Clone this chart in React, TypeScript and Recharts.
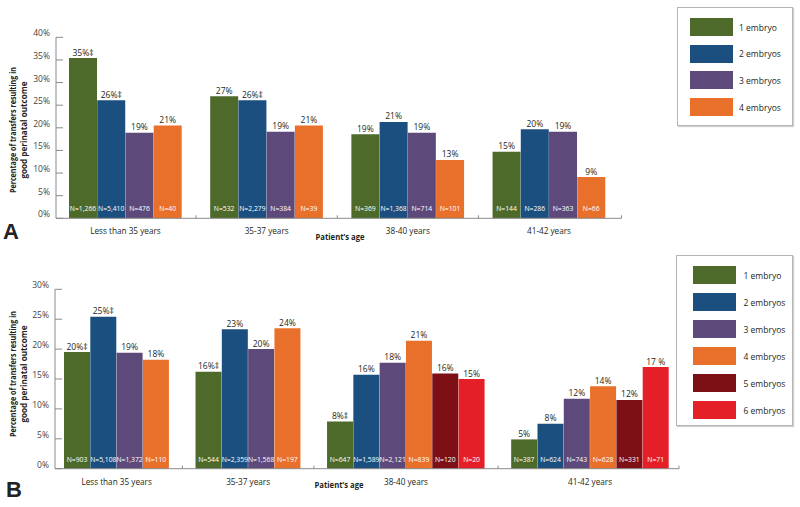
import { BarChart, Bar, XAxis, YAxis, Cell, LabelList, Legend } from 'recharts';

const FONT = '"Open Sans", "Noto Sans", sans-serif';
const AXIS = '#8a8a8a';
const TEXT = '#231f20';

const ageGroups = ['Less than 35 years', '35-37 years', '38-40 years', '41-42 years'];
const embryoNames = ['1 embryo', '2 embryos', '3 embryos', '4 embryos', '5 embryos', '6 embryos'];
const embryoColors = ['#4d6a2b', '#1b4f7f', '#5e4a7a', '#e8702a', '#7c1015', '#e51f27'];

// Panel A: one array per embryo count, one value per age group
const aValues = [
  [35.4, 27.0, 18.6, 14.7],
  [26.1, 26.1, 21.3, 19.7],
  [18.9, 19.1, 18.9, 19.1],
  [20.5, 20.5, 12.9, 9.1],
];
const aLabels = [
  ['35%‡', '27%', '19%', '15%'],
  ['26%‡', '26%‡', '21%', '20%'],
  ['19%', '19%', '19%', '19%'],
  ['21%', '21%', '13%', '9%'],
];
const aCounts = [
  ['N=1,266', 'N=532', 'N=369', 'N=144'],
  ['N=5,410', 'N=2,279', 'N=1,368', 'N=286'],
  ['N=476', 'N=384', 'N=714', 'N=363'],
  ['N=40', 'N=39', 'N=101', 'N=66'],
];
const aTicks = [0, 5, 10, 15, 20, 25, 30, 35, 40];

// Panel B: 5 and 6 embryos only in the two older groups
const bValues = [
  [19.5, 16.2, 7.9, 4.9],
  [25.4, 23.3, 15.7, 7.5],
  [19.4, 20.0, 17.7, 11.7],
  [18.2, 23.5, 21.4, 13.8],
  [null, null, 15.9, 11.5],
  [null, null, 15.0, 17.0],
];
const bLabels = [
  ['20%‡', '16%‡', '8%‡', '5%'],
  ['25%‡', '23%', '16%', '8%'],
  ['19%', '20%', '18%', '12%'],
  ['18%', '24%', '21%', '14%'],
  ['', '', '16%', '12%'],
  ['', '', '15%', '17 %'],
];
const bCounts = [
  ['N=903', 'N=544', 'N=647', 'N=387'],
  ['N=5,108', 'N=2,359', 'N=1,589', 'N=624'],
  ['N=1,372', 'N=1,568', 'N=2,121', 'N=743'],
  ['N=110', 'N=197', 'N=839', 'N=628'],
  ['', '', 'N=120', 'N=331'],
  ['', '', 'N=20', 'N=71'],
];
const bTicks = [0, 5, 10, 15, 20, 25, 30];

type Row = {
  key: string;
  value: number | null;
  label?: string;
  n?: string;
  color?: string;
  group: number;
  pos?: number;
  size?: number;
  spacer?: boolean;
};

// one row per bar, with an empty slot between age groups
function buildRows(values: (number | null)[][], labels: string[][], counts: string[][]): Row[] {
  const rows: Row[] = [];
  ageGroups.forEach((_, gi) => {
    if (gi > 0) rows.push({ key: `gap${gi}`, value: null, group: gi, spacer: true });
    const members = values.map((_, si) => si).filter(si => values[si][gi] != null);
    members.forEach((si, k) => {
      rows.push({
        key: `${gi}-${si}`,
        value: values[si][gi],
        label: labels[si][gi],
        n: counts[si][gi],
        color: embryoColors[si],
        group: gi,
        pos: k,
        size: members.length,
      });
    });
  });
  return rows;
}

interface PanelProps {
  letter: string;
  top: number;
  height: number;
  rows: Row[];
  series: number;
  yMax: number;
  yTicks: number[];
  plotLeft: number;
  plotRight: number;
  plotTop: number;
  plotBottom: number;
  padL: number;
  padR: number;
  titleX: number;
  titleY: number;
  yTitleY: number;
  legend: { left: number; top: number; width: number; height: number; padX: number; padY: number; step: number; gap: number };
  letterPos: { left: number; top: number };
}

function Panel(p: PanelProps) {
  const Y_W = 40;
  const X_H = 30;
  const width = 800;
  const slot = (p.plotRight - p.plotLeft - p.padL - p.padR) / p.rows.length;
  const last = p.rows.length - 1;

  const renderXTick = (props: any) => {
    const { x, y, index } = props;
    const row = p.rows[index];
    if (!row) return <g />;
    return (
      <g>
        {row.spacer && <line x1={x} x2={x} y1={y} y2={y - 3} stroke={AXIS} />}
        {row.pos === 0 && (
          <text
            x={x + (((row.size ?? 1) - 1) / 2) * slot}
            y={y + 16}
            textAnchor="middle"
            fontSize={8.2}
            fontFamily={FONT}
            fill={TEXT}
          >
            {ageGroups[row.group]}
          </text>
        )}
        {index === last && (
          <line x1={x + slot / 2 + p.padR} x2={x + slot / 2 + p.padR} y1={y} y2={y - 3} stroke={AXIS} />
        )}
      </g>
    );
  };

  const renderYTick = (props: any) => {
    const { x, y, payload } = props;
    return (
      <g>
        <line x1={x} x2={x + 7} y1={y} y2={y} stroke={AXIS} />
        <text x={x - 6} y={y - 1} textAnchor="end" fontSize={8.5} fontFamily={FONT} fill="#444">
          {`${payload.value}%`}
        </text>
      </g>
    );
  };

  const renderCount = (props: any) => {
    const { x, y, width: w, height: h, value } = props;
    if (!value) return null;
    return (
      <text x={x + w / 2} y={y + h - 7} textAnchor="middle" fontSize={6.8} fontFamily={FONT} fill="#ffffff">
        {value}
      </text>
    );
  };

  const renderValue = (props: any) => {
    const { x, y, width: w, value } = props;
    if (!value) return null;
    return (
      <text x={x + w / 2} y={y - 2.5} textAnchor="middle" fontSize={8.5} fontFamily={FONT} fill={TEXT}>
        {value}
      </text>
    );
  };

  const lg = p.legend;

  return (
    <div style={{ position: 'absolute', left: 0, top: p.top, width, height: p.height }}>
      <BarChart
        width={width}
        height={p.height}
        data={p.rows}
        barCategoryGap={0}
        barGap={0}
        margin={{
          top: p.plotTop,
          right: width - p.plotRight,
          left: p.plotLeft - Y_W,
          bottom: p.height - p.plotBottom - X_H,
        }}
      >
        <XAxis
          dataKey="key"
          height={X_H}
          interval={0}
          tickSize={0}
          tickMargin={0}
          tickLine={false}
          stroke={AXIS}
          padding={{ left: p.padL, right: p.padR }}
          tick={renderXTick}
          label={{
            content: () => (
              <text
                x={p.titleX}
                y={p.titleY}
                textAnchor="middle"
                fontSize={8.5}
                fontWeight="bold"
                fontFamily={FONT}
                fill={TEXT}
                textLength={49}
                lengthAdjust="spacingAndGlyphs"
              >
                Patient’s age
              </text>
            ),
          }}
        />
        <YAxis
          width={Y_W}
          domain={[0, p.yMax]}
          ticks={p.yTicks}
          interval={0}
          tickSize={0}
          tickMargin={0}
          tickLine={false}
          stroke={AXIS}
          tick={renderYTick}
          label={{
            content: () => (
              <g transform={`translate(16, ${p.yTitleY}) rotate(-90)`}>
                <text
                  x={0}
                  y={0}
                  textAnchor="middle"
                  fontSize={9}
                  fontWeight="bold"
                  fontFamily={FONT}
                  fill={TEXT}
                  textLength={126}
                  lengthAdjust="spacingAndGlyphs"
                >
                  Percentage of transfers resulting in
                </text>
                <text
                  x={0}
                  y={11.3}
                  textAnchor="middle"
                  fontSize={9}
                  fontWeight="bold"
                  fontFamily={FONT}
                  fill={TEXT}
                  textLength={97}
                  lengthAdjust="spacingAndGlyphs"
                >
                  good perinatal outcome
                </text>
              </g>
            ),
          }}
        />
        <Legend
          layout="horizontal"
          verticalAlign="middle"
          align="center"
          wrapperStyle={{ left: lg.left, top: lg.top, width: lg.width, height: lg.height }}
          content={() => (
            <div
              style={{
                width: lg.width,
                height: lg.height,
                boxSizing: 'border-box',
                border: '1px solid #b5b5b5',
                boxShadow: '1px 1px 1px #d0d0d0',
                background: '#fff',
                position: 'relative',
                fontFamily: FONT,
              }}
            >
              {embryoNames.slice(0, p.series).map((name, i) => (
                <div
                  key={name}
                  style={{
                    position: 'absolute',
                    left: lg.padX,
                    top: lg.padY + i * lg.step,
                    display: 'flex',
                    alignItems: 'center',
                  }}
                >
                  <div style={{ width: 43, height: 18, background: embryoColors[i] }} />
                  <span style={{ marginLeft: lg.gap, fontSize: 8.5, color: TEXT }}>{name}</span>
                </div>
              ))}
            </div>
          )}
        />
        <Bar dataKey="value" isAnimationActive={false}>
          {p.rows.map(r => (
            <Cell key={r.key} fill={r.color ?? 'none'} />
          ))}
          <LabelList dataKey="label" content={renderValue} />
          <LabelList dataKey="n" content={renderCount} />
        </Bar>
      </BarChart>
      <div
        style={{
          position: 'absolute',
          left: p.letterPos.left,
          top: p.letterPos.top,
          fontFamily: '"Liberation Sans", Arial, sans-serif',
          fontWeight: 'bold',
          fontSize: 22,
          lineHeight: '22px',
          color: '#222',
        }}
      >
        {p.letter}
      </div>
    </div>
  );
}

const rowsA = buildRows(aValues, aLabels, aCounts);
const rowsB = buildRows(bValues, bLabels, bCounts);

export default function App() {
  return (
    <div style={{ position: 'absolute', left: 0, top: 0, width: 800, height: 507, background: '#fff', overflow: 'hidden' }}>
      <Panel
        letter="A"
        top={0}
        height={250}
        rows={rowsA}
        series={4}
        yMax={40}
        yTicks={aTicks}
        plotLeft={56}
        plotRight={621.5}
        plotTop={37.3}
        plotBottom={218.3}
        padL={13}
        padR={16}
        titleX={340}
        titleY={240}
        yTitleY={130}
        legend={{ left: 677, top: 7, width: 116, height: 119, padX: 12, padY: 10, step: 26.7, gap: 6 }}
        letterPos={{ left: 3, top: 221 }}
      />
      <Panel
        letter="B"
        top={250}
        height={257}
        rows={rowsB}
        series={6}
        yMax={30}
        yTicks={bTicks}
        plotLeft={55}
        plotRight={679}
        plotTop={39.3}
        plotBottom={218.7}
        padL={9}
        padR={10}
        titleX={339}
        titleY={238}
        yTitleY={124}
        legend={{ left: 675.5, top: 5.3, width: 117, height: 171, padX: 16, padY: 10, step: 27, gap: 8 }}
        letterPos={{ left: 6, top: 229 }}
      />
    </div>
  );
}
